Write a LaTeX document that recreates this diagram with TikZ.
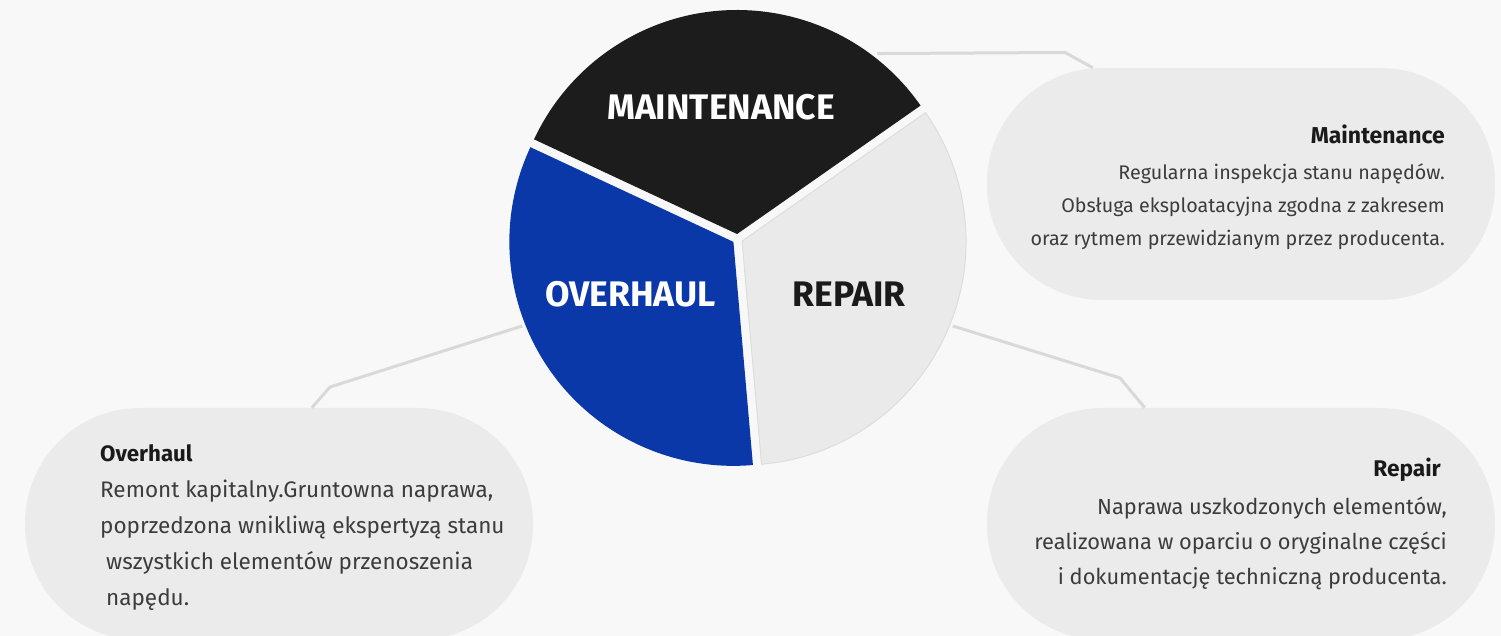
\documentclass[tikz,border=0pt]{standalone}
\usepackage{fontspec}
\setmainfont{Fira Sans}
\usetikzlibrary{calc}
\definecolor{bg}{HTML}{F8F8F8}
\definecolor{boxgrey}{HTML}{EBEBEB}
\definecolor{segblack}{HTML}{1C1C1C}
\definecolor{segblue}{HTML}{0B38A8}
\definecolor{seggrey}{HTML}{EAEAEA}
\definecolor{segedge}{HTML}{DDDDDD}
\definecolor{connc}{HTML}{D9D9D9}
\definecolor{bodytext}{HTML}{3C3C3C}
\definecolor{headtext}{HTML}{1A1A1A}
\tikzset{
  pill/.style={fill=boxgrey, rounded corners=115pt, minimum width=508pt, minimum height=232pt, inner sep=0pt},
  conn/.style={draw=connc, line width=3pt, line join=round},
  lab/.style={inner sep=0pt, font=\fontsize{35.5}{40}\selectfont\bfseries},
  body/.style={inner sep=0pt, text=bodytext}
}
\begin{document}
\begin{tikzpicture}[x=1pt,y=1pt]
\useasboundingbox (0,0) rectangle (1501,636);
\fill[bg] (0,0) rectangle (1501,636);

% boxes
\node[pill] (mbox) at (1241,452) {};
\node[pill] (obox) at (279,112) {};
\node[pill] (rbox) at (1241,112) {};

% pie
\node[circle, minimum size=464pt, inner sep=0pt] (pie) at (737.5,397) {};
\fill[segblack, shift={(95:5pt)}] (737.5,397) -- +(35:224pt) arc[start angle=35, end angle=155, radius=224pt] -- cycle;
\fill[segblue, shift={(215:5pt)}] (737.5,397) -- +(155:224pt) arc[start angle=155, end angle=275, radius=224pt] -- cycle;
\filldraw[fill=seggrey, draw=segedge, line width=1pt, shift={(335:5pt)}] (737.5,397) -- +(275:224pt) arc[start angle=275, end angle=395, radius=224pt] -- cycle;

\node[lab, text=white, anchor=base] (tm) at (721,516) {MAINTENANCE};
\node[lab, text=white, anchor=base] (to) at (630.5,329) {OVERHAUL};
\node[lab, text=headtext, anchor=base] (tr) at (849,329) {REPAIR};

% connectors
\coordinate (mbend) at (1065,583.5);
\coordinate (obend) at (330,249);
\coordinate (rbend) at (1120,258);
\draw[conn] (pie.53.5) -- (mbend) -- ($(mbox.north west)+(106,0)$);
\draw[conn] (pie.202) -- (obend) -- ($(obox.north west)+(287,0)$);
\draw[conn] (pie.338.2) -- (rbend) -- ($(rbox.north west)+(158,0)$);

% texts
\node[body, align=right, anchor=north east, font=\fontsize{19.7}{33}\selectfont] (mtext) at (1445,511)
  {{\color{headtext}\fontsize{23}{33}\selectfont\bfseries Maintenance}\\[3pt]
   Regularna inspekcja stanu napędów.\\
   Obsługa eksploatacyjna zgodna z zakresem\\
   oraz rytmem przewidzianym przez producenta.};
\node[body, align=left, anchor=north west, font=\fontsize{22.5}{36}\selectfont] (otext) at (100,192)
  {{\color{headtext}\fontsize{22.3}{36}\selectfont\bfseries Overhaul}\\
   Remont kapitalny.Gruntowna naprawa,\\
   poprzedzona wnikliwą ekspertyzą stanu\\
   \hspace*{6pt}wszystkich elementów przenoszenia\\
   \hspace*{6pt}napędu.};
\node[body, align=right, anchor=north east, font=\fontsize{21.8}{35}\selectfont] (rtext) at (1447,178)
  {{\color{headtext}\fontsize{22.7}{35}\selectfont\bfseries Repair}\hspace*{6pt}\\[3pt]
   Naprawa uszkodzonych elementów,\\
   realizowana w oparciu o oryginalne części\\
   i dokumentację techniczną producenta.};
\end{tikzpicture}
\end{document}
